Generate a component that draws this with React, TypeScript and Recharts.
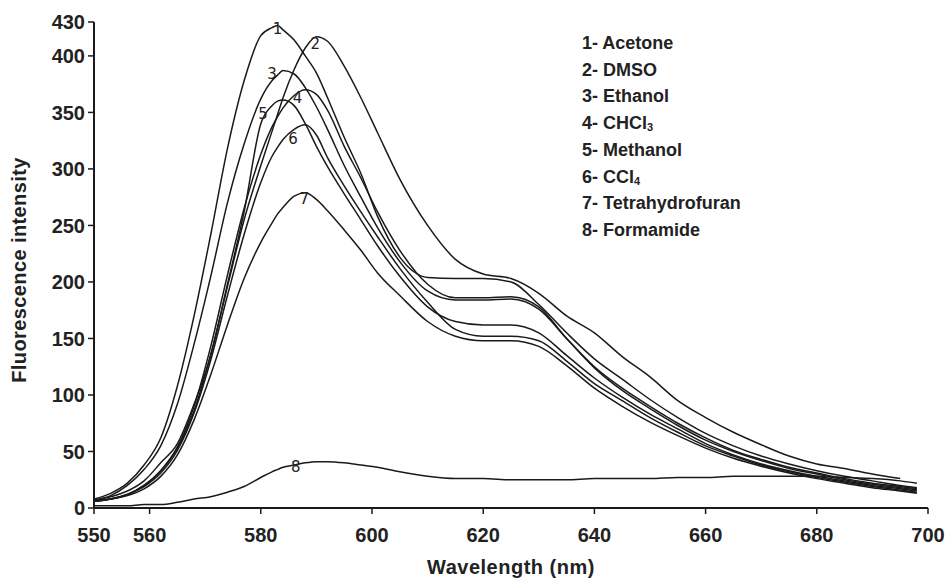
import React from 'react';
import { LineChart, Line, XAxis, YAxis, ReferenceDot } from 'recharts';

// wavelength grid (nm)
const wavelengths = [
  550, 553, 556, 559, 562, 565, 568, 571, 574, 577, 580, 582, 583, 584, 586, 588, 590, 592, 595, 598,
  601, 605, 610, 615, 620, 625, 630, 635, 640, 645, 650, 655, 660, 665, 670, 675, 680, 685, 690, 695, 698,
];

const acetone = [
  8, 13, 22, 38, 62, 108, 170, 242, 318, 378, 418, 425, 427, 423, 414, 400, 385, 363, 328, 296,
  258, 222, 204, 203, 203, 200, 180, 155, 132, 114, 96, 80, 66, 55, 46, 39, 33, 28, 24, 20, 18,
];
const dmso = [
  6, 8, 12, 20, 33, 53, 86, 136, 196, 255, 303, 333, 348, 363, 388, 407, 417, 413, 391, 363,
  332, 291, 250, 220, 207, 203, 190, 170, 155, 134, 116, 95, 80, 67, 56, 46, 39, 35, 30, 26, null,
];
const ethanol = [
  7, 11, 20, 34, 55, 92, 145, 205, 270, 322, 362, 378, 383, 387, 384, 372, 355, 335, 303, 275,
  248, 218, 192, 184, 184, 185, 176, 150, 125, 106, 90, 75, 62, 51, 43, 36, 31, 26, 22, 19, 17,
];
const chcl3 = [
  6, 8, 12, 20, 33, 54, 90, 143, 206, 265, 313, 337, 346, 354, 365, 370, 366, 352, 320, 292,
  262, 228, 198, 186, 186, 187, 178, 150, 124, 104, 88, 73, 60, 50, 42, 35, 30, 25, 21, 18, 16,
];
const methanol = [
  7, 10, 15, 24, 40, 57, 92, 135, 198, 262, 340, 356, 360, 361, 356, 340, 320, 302, 278, 255,
  232, 205, 178, 165, 162, 162, 155, 135, 115, 98, 83, 70, 57, 47, 39, 33, 28, 24, 20, 17, 15,
];
const ccl4 = [
  6, 8, 12, 19, 31, 51, 84, 131, 188, 242, 288, 311, 319, 326, 335, 339, 330, 310, 285, 262,
  240, 212, 182, 158, 152, 152, 148, 130, 110, 95, 80, 67, 55, 46, 38, 32, 27, 23, 19, 16, 14,
];
const thf = [
  6, 8, 11, 17, 28, 47, 78, 118, 162, 203, 235, 252, 260, 266, 276, 279, 273, 263, 246, 228,
  208, 188, 165, 152, 148, 148, 143, 126, 106, 90, 76, 64, 53, 44, 37, 31, 26, 22, 18, 15, 13,
];
const formamide = [
  2, 2, 2, 3, 3, 5, 8, 10, 14, 19, 27, 32, 34, 36, 38, 40, 41, 41, 40, 38,
  36, 32, 28, 26, 26, 25, 25, 25, 26, 26, 26, 27, 27, 28, 28, 28, 28, 27, 26, 24, 22,
];

const seriesKeys = ['s1', 's2', 's3', 's4', 's5', 's6', 's7', 's8'];
const seriesValues = [acetone, dmso, ethanol, chcl3, methanol, ccl4, thf, formamide];

const legendItems = [
  { n: '1', name: 'Acetone' },
  { n: '2', name: 'DMSO' },
  { n: '3', name: 'Ethanol' },
  { n: '4', name: 'CHCl', sub: '3' },
  { n: '5', name: 'Methanol' },
  { n: '6', name: 'CCl', sub: '4' },
  { n: '7', name: 'Tetrahydrofuran' },
  { n: '8', name: 'Formamide' },
];

// curve number annotations near the peaks (wavelength, intensity)
const curveTags = [
  { label: '1', x: 583, y: 424 },
  { label: '2', x: 589.8, y: 411 },
  { label: '3', x: 582, y: 384 },
  { label: '4', x: 586.6, y: 363 },
  { label: '5', x: 580.4, y: 349 },
  { label: '6', x: 585.8, y: 327 },
  { label: '7', x: 587.8, y: 274 },
  { label: '8', x: 586.3, y: 37 },
];

const xTicks = [550, 560, 580, 600, 620, 640, 660, 680, 700];
const yTicks = [0, 50, 100, 150, 200, 250, 300, 350, 400, 430];

const data = wavelengths.map((w, i) => {
  const row: Record<string, number | null> = { w };
  seriesKeys.forEach((k, j) => {
    row[k] = seriesValues[j][i];
  });
  return row;
});

const font = '"Liberation Sans", Arial, sans-serif';
const ink = '#1a1a1a';
const textFill = '#222';
const tickStyle = { fontSize: 20, fontWeight: 700, fill: textFill, fontFamily: font };

const YTitle = (props: any) => {
  const vb = props.viewBox || { x: 0, y: 0, width: 94, height: 486 };
  const cx = vb.x + 19;
  const cy = vb.y + vb.height / 2 + 5;
  return (
    <text
      x={cx}
      y={cy}
      transform={`rotate(-90 ${cx} ${cy})`}
      textAnchor="middle"
      dominantBaseline="central"
      style={{ fontSize: 20, fontWeight: 700, fill: textFill, fontFamily: font, letterSpacing: 0.4 }}
    >
      Fluorescence intensity
    </text>
  );
};

export default function App() {
  return (
    <div style={{ position: 'absolute', left: 0, top: 0, width: 951, height: 578, background: '#fff' }}>
      <LineChart width={951} height={578} data={data} margin={{ top: 22, right: 23, bottom: 0, left: 0 }}>
        <XAxis
          dataKey="w"
          type="number"
          domain={[550, 700]}
          ticks={xTicks}
          interval={0}
          height={70}
          tickSize={6}
          tickMargin={14}
          axisLine={{ stroke: ink, strokeWidth: 2 }}
          tickLine={{ stroke: ink, strokeWidth: 1.5 }}
          tick={tickStyle}
          label={{
            value: 'Wavelength (nm)',
            position: 'insideBottom',
            offset: 4,
            style: { fontSize: 20, fontWeight: 700, fill: textFill, fontFamily: font, letterSpacing: 0.5 },
          }}
        />
        <YAxis
          type="number"
          domain={[0, 430]}
          ticks={yTicks}
          interval={0}
          width={94}
          tickSize={6}
          tickMargin={3}
          axisLine={{ stroke: ink, strokeWidth: 2 }}
          tickLine={{ stroke: ink, strokeWidth: 1.5 }}
          tick={tickStyle}
          label={{ content: YTitle }}
        />
        {seriesKeys.map((k) => (
          <Line
            key={k}
            dataKey={k}
            type="monotone"
            stroke={ink}
            strokeWidth={1.5}
            dot={false}
            isAnimationActive={false}
          />
        ))}
        {curveTags.map((t) => (
          <ReferenceDot
            key={t.label}
            x={t.x}
            y={t.y}
            r={0}
            label={{
              value: t.label,
              position: 'center',
              style: { fontSize: 15, fill: textFill, fontFamily: '"DejaVu Sans", sans-serif' },
            }}
          />
        ))}
      </LineChart>
      <div
        style={{
          position: 'absolute',
          left: 582,
          top: 30,
          fontFamily: font,
          fontWeight: 700,
          fontSize: 18,
          lineHeight: '26.7px',
          color: textFill,
        }}
      >
        {legendItems.map((it) => (
          <div key={it.n}>
            {it.n}- {it.name}
            {it.sub ? <sub style={{ fontSize: 11, verticalAlign: '-2px', lineHeight: 0 }}>{it.sub}</sub> : null}
          </div>
        ))}
      </div>
    </div>
  );
}
